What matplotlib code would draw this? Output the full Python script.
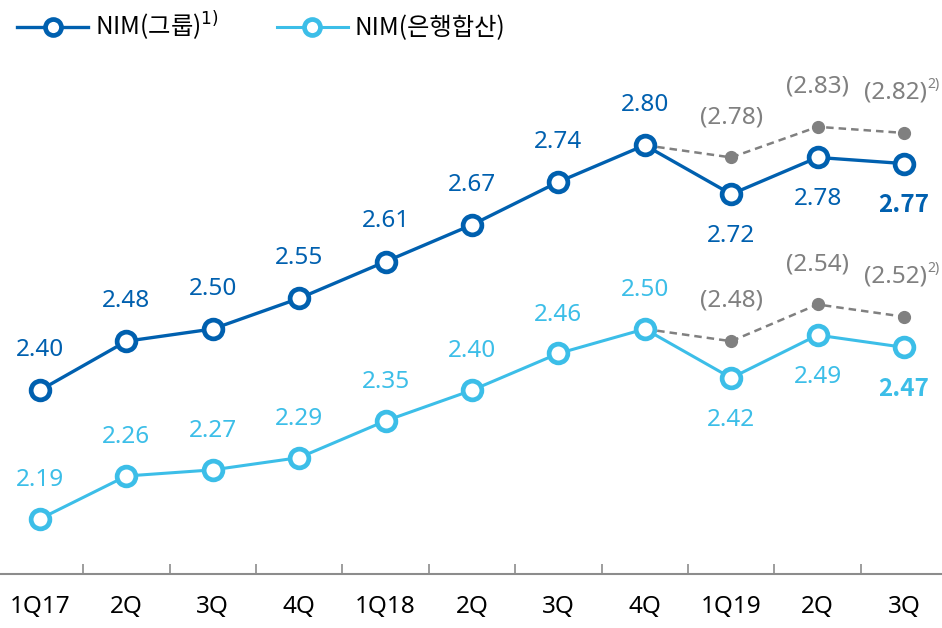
import matplotlib
matplotlib.use('Agg')
import matplotlib.pyplot as plt
from matplotlib.ticker import FixedLocator

plt.rcParams['font.family'] = ['Noto Sans', 'Noto Sans CJK KR', 'DejaVu Sans']

quarters = ['1Q17', '2Q', '3Q', '4Q', '1Q18', '2Q', '3Q', '4Q', '1Q19', '2Q', '3Q']
nim_group = [2.40, 2.48, 2.50, 2.55, 2.61, 2.67, 2.74, 2.80, 2.72, 2.78, 2.77]
nim_bank = [2.19, 2.26, 2.27, 2.29, 2.35, 2.40, 2.46, 2.50, 2.42, 2.49, 2.47]
# adjusted values (dashed grey), starting at 4Q18
adj_idx = [7, 8, 9, 10]
adj_group = [2.80, 2.78, 2.83, 2.82]
adj_bank = [2.50, 2.48, 2.54, 2.52]
# label below the point?
group_below = [False] * 8 + [True, True, True]
bank_below = [False] * 8 + [True, True, True]

dark = '#0060AF'
light = '#3CBEE8'
grey = '#808080'
lbl_size = 17.5

fig = plt.figure(figsize=(9.42, 6.28), dpi=100)
ax = fig.add_axes([0, 54 / 628, 1, 574 / 628])

x = list(range(len(quarters)))

# dashed adjusted lines
for vals in (adj_group, adj_bank):
    ax.plot(adj_idx, vals, color=grey, ls='--', lw=1.8, dashes=(3, 2), zorder=2)
    ax.plot(adj_idx[1:], vals[1:], 'o', color=grey, ms=8.5, zorder=2)

l1, = ax.plot(x, nim_group, color=dark, lw=2.4, marker='o', ms=13.5, mfc='white',
              mec=dark, mew=3.4, zorder=3, label='NIM(그룹)$^{1)}$')
l2, = ax.plot(x, nim_bank, color=light, lw=2.2, marker='o', ms=13.5, mfc='white',
              mec=light, mew=3.4, zorder=3, label='NIM(은행합산)')

for vals, below, col, up in ((nim_group, group_below, dark, 29), (nim_bank, bank_below, light, 28)):
    for i, (v, b) in enumerate(zip(vals, below)):
        off = -30 if b else up
        if i == len(x) - 1:
            ax.annotate(f'{v:.2f}', (i, v), xytext=(0, off), textcoords='offset points',
                        ha='center', va='center', color=col, fontsize=lbl_size,
                        fontweight='bold', family=['Noto Sans CJK KR'])
        else:
            ax.annotate(f'{v:.2f}', (i, v), xytext=(0, off), textcoords='offset points',
                        ha='center', va='center', color=col, fontsize=lbl_size)

for vals in (adj_group, adj_bank):
    for k, (i, v) in enumerate(zip(adj_idx[1:], vals[1:])):
        if k == len(vals) - 2:
            ax.annotate(f'({v:.2f})', (i, v), xytext=(-6, 29), textcoords='offset points',
                        ha='center', va='center', color=grey, fontsize=lbl_size)
            ax.annotate('2)', (i, v), xytext=(25.5, 35), textcoords='offset points',
                        ha='right', va='center', color=grey, fontsize=lbl_size * 0.58)
        else:
            ax.annotate(f'({v:.2f})', (i, v), xytext=(0, 29), textcoords='offset points',
                        ha='center', va='center', color=grey, fontsize=lbl_size)

ax.set_xlim(-0.463, 10.44)
ax.set_ylim(2.10, 3.037)

for s in ['top', 'left', 'right']:
    ax.spines[s].set_visible(False)
ax.spines['bottom'].set_color('#8c8c8c')
ax.spines['bottom'].set_linewidth(1.5)
ax.set_yticks([])
ax.set_xticks(x)
ax.set_xticklabels(quarters, fontsize=lbl_size)
ax.tick_params(axis='x', which='major', length=0, pad=15, colors='black')
ax.xaxis.set_minor_locator(FixedLocator([i + 0.5 for i in x[:-1]]))
ax.tick_params(axis='x', which='minor', direction='in', length=7, width=1.2, color='#8c8c8c')

ax.legend(handles=[l1, l2], loc='upper left', bbox_to_anchor=(0.008, 1.0),
          ncol=2, frameon=False, prop={'family': ['Noto Sans CJK KR'], 'size': lbl_size},
          handlelength=2.9, columnspacing=2.4, handletextpad=0.3, borderaxespad=0.0,
          markerscale=0.85)

fig.savefig('out.png', dpi=100)
